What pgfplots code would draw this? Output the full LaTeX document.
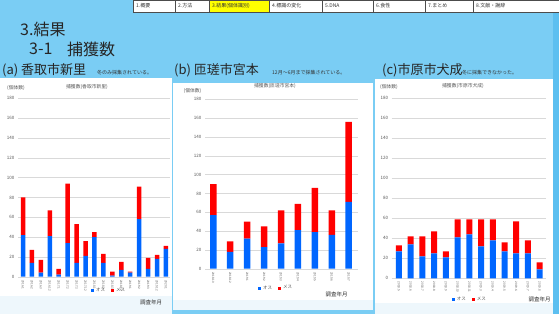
\documentclass[border=0pt]{standalone}
\usepackage{fontspec}
\setmainfont{Noto Sans CJK JP}
\usepackage{pgfplots}
\pgfplotsset{compat=1.18}
\definecolor{bg}{HTML}{7ACDF4}
\definecolor{bgdark}{HTML}{5CBFF0}
\definecolor{pale}{HTML}{EEF7FC}
\definecolor{tick}{HTML}{595959}
\definecolor{obl}{HTML}{0066FF}
\definecolor{mred}{HTML}{FF0000}
\definecolor{navy}{HTML}{FFFF00}
\pgfplotsset{catch/.style={
  scale only axis, ybar stacked, bar shift=0pt,
  ymin=0, ymax=180, ytick={0,20,...,180},
  ymajorgrids, major grid style={draw=black!15, line width=0.4pt},
  axis line style={draw=none}, major tick length=0pt,
  yticklabel style={font=\fontsize{4.5}{5}\selectfont, text=tick},
  xticklabel style={rotate=-90, anchor=west, font=\fontsize{3}{3.5}\selectfont, text=tick},
  /pgf/number format/assume math mode=true,
  legend columns=2,
  legend style={draw=none, fill=none, font=\fontsize{4.5}{5}\selectfont, text=tick,
    /tikz/every even column/.append style={column sep=4pt}},
  legend image code/.code={\fill[##1] (0pt,-1.5pt) rectangle (3pt,1.5pt);},
}}
\begin{document}
\begin{tikzpicture}
\begin{scope}[x=1pt,y=1pt]
\useasboundingbox (0,0) rectangle (559,314);
\fill[bg] (0,0) rectangle (559,314);
\fill[bgdark] (553,0) rectangle (559,314);
% panels
\fill[white] (0,18) rectangle (172,236);
\fill[pale] (0,0) rectangle (172,18);
\fill[white] (173,14) rectangle (373,231);
\fill[pale] (173,4) rectangle (373,14);
\fill[white] (375,11) rectangle (553,235);
\fill[pale] (375,0) rectangle (553,11);
% nav bar
\foreach \a/\b/\t in {133/175/{1.概要},175/209/{2.方法},269/322/{4.標識の変化},322/373/{5.DNA},373/425/{6.食性},425/473/{7.まとめ},473/559/{8.文献・謝辞}}{
  \filldraw[fill=white,draw=black!70,line width=0.4pt] (\a,302) rectangle (\b,314);
  \node[anchor=west,inner sep=0pt,font=\fontsize{5}{5}\selectfont,text=black!80] at (\a+3,308) {\t};
}
\filldraw[fill=navy,draw=black!70,line width=0.4pt] (209,302) rectangle (269,314);
\node[anchor=west,inner sep=0pt,font=\fontsize{5}{5}\selectfont,text=black!80] at (212,308) {3.結果(個体識別)};
% headings
\node[anchor=west,inner sep=0pt,font=\fontsize{16}{16}\selectfont,text=black!85] at (20,285) {3.結果};
\node[anchor=west,inner sep=0pt,font=\fontsize{16}{16}\selectfont,text=black!85] at (29,265) {3-1};
\node[anchor=west,inner sep=0pt,font=\fontsize{16}{16}\selectfont,text=black!85] at (67,265) {捕獲数};
\node[anchor=base west,inner sep=0pt,font=\fontsize{13}{13}\selectfont,text=black!85] at (2,240) {(a) 香取市新里};
\node[anchor=base west,inner sep=0pt,font=\fontsize{5}{5}\selectfont,text=black!80] at (97,240) {冬のみ採集されている。};
\node[anchor=base west,inner sep=0pt,font=\fontsize{13}{13}\selectfont,text=black!85] at (174,240) {(b) 匝瑳市宮本};
\node[anchor=base west,inner sep=0pt,font=\fontsize{5}{5}\selectfont,text=black!80] at (272,240) {12月～6月まで採集されている。};
\node[anchor=base west,inner sep=0pt,font=\fontsize{13}{13}\selectfont,text=black!85] at (382,240) {(c)市原市犬成};
\node[anchor=base west,inner sep=0pt,font=\fontsize{5}{5}\selectfont,text=black!80] at (462,240) {冬に採集できなかった。};
% chart texts
\node[font=\fontsize{4.8}{5}\selectfont,text=tick] at (87,227) {捕獲数(香取市新里)};
\node[font=\fontsize{4.8}{5}\selectfont,text=tick] at (16,226) {(個体数)};
\node[font=\fontsize{5.5}{6}\selectfont,text=black!80] at (151,12) {調査年月};
\node[font=\fontsize{4.8}{5}\selectfont,text=tick] at (275,228) {捕獲数(匝瑳市宮本)};
\node[font=\fontsize{4.8}{5}\selectfont,text=tick] at (192.5,223) {(個体数)};
\node[font=\fontsize{5.5}{6}\selectfont,text=black!80] at (336.5,20) {調査年月};
\node[font=\fontsize{4.8}{5}\selectfont,text=tick] at (463,228) {捕獲数(市原市犬成)};
\node[font=\fontsize{4.8}{5}\selectfont,text=tick] at (389,227) {(個体数)};
\node[font=\fontsize{5.5}{6}\selectfont,text=black!80] at (539.5,15) {調査年月};
\end{scope}
% (a)
\begin{axis}[catch, at={(18pt,37.3pt)}, anchor=south west, width=152pt, height=178.4pt,
  bar width=4.5pt, xmin=-0.56, xmax=16.45, xtick={0,...,16},
  xticklabels={2016.1,2016.2,2016.3,2016.12,2017.1,2017.2,2017.3,2017.12,2018.1,2018.2,2018.3,2018.12,2019.1,2019.2,2019.3,2019.12,2020.1},
  legend style={at={(axis description cs:0.6,-0.08)}, anchor=center}]
\addplot[fill=obl,draw=none] coordinates {(0,42)(1,14)(2,4)(3,41)(4,2)(5,34)(6,14)(7,21)(8,40)(9,14)(10,1)(11,7)(12,4)(13,58)(14,8)(15,18)(16,28)};
\addplot[fill=mred,draw=none] coordinates {(0,38)(1,13)(2,13)(3,26)(4,6)(5,60)(6,39)(7,15)(8,5)(9,9)(10,4)(11,8)(12,1)(13,33)(14,11)(15,4)(16,3)};
\legend{オス,メス}
\end{axis}
% (b)
\begin{axis}[catch, at={(205pt,45.3pt)}, anchor=south west, width=152.7pt, height=169.4pt,
  bar width=6.5pt, xmin=-0.49, xmax=8.53, xtick={0,...,8},
  xticklabels={2018.10,2018.12,2019.1,2019.2,2019.3,2019.4,2019.5,2019.6,2019.7},
  legend style={at={(axis description cs:0.465,-0.114)}, anchor=center}]
\addplot[fill=obl,draw=none] coordinates {(0,57)(1,18)(2,32)(3,23)(4,27)(5,41)(6,39)(7,36)(8,71)};
\addplot[fill=mred,draw=none] coordinates {(0,33)(1,11)(2,18)(3,22)(4,35)(5,28)(6,47)(7,26)(8,85)};
\legend{オス,メス}
\end{axis}
% (c)
\begin{axis}[catch, at={(391.7pt,35.7pt)}, anchor=south west, width=154.3pt, height=180pt,
  bar width=6pt, xmin=-0.62, xmax=12.54, xtick={0,...,12},
  xticklabels={2018.5,2018.6,2018.7,2018.8,2018.9,2018.10,2018.11,2019.3,2019.4,2019.5,2019.6,2019.7,2019.8},
  legend style={at={(axis description cs:0.507,-0.12)}, anchor=center}]
\addplot[fill=obl,draw=none] coordinates {(0,27)(1,34)(2,22)(3,25)(4,21)(5,41)(6,44)(7,32)(8,38)(9,27)(10,25)(11,25)(12,9)};
\addplot[fill=mred,draw=none] coordinates {(0,6)(1,8)(2,20)(3,22)(4,6)(5,18)(6,15)(7,27)(8,21)(9,9)(10,32)(11,13)(12,7)};
\legend{オス,メス}
\end{axis}
\end{tikzpicture}
\end{document}
